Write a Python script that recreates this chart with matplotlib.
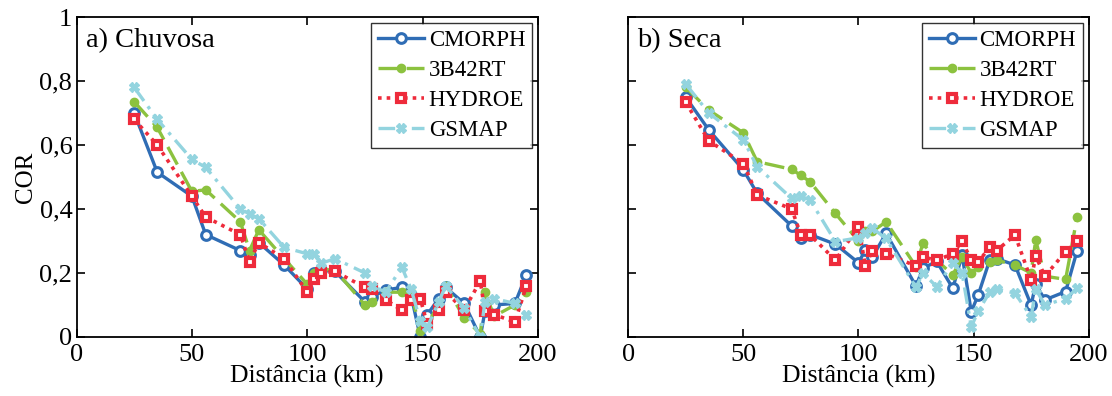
import numpy as np
import matplotlib
matplotlib.use("Agg")
import matplotlib.pyplot as plt
from matplotlib.ticker import FuncFormatter

plt.rcParams['font.family'] = ['Liberation Serif', 'DejaVu Serif']

# distance bins (km)
dist = [25, 35, 50, 56, 71, 75, 79, 90, 100, 103, 106, 112, 125, 128, 134,
        141, 145, 149, 152, 157, 160, 168, 175, 177, 181, 190, 195]

# a) Chuvosa
cmorph_a = [0.70, 0.515, 0.44, 0.32, 0.27, 0.255, 0.295, 0.225, 0.15, 0.20, 0.21, 0.205, 0.11, 0.125,
            0.147, 0.155, 0.13, 0.0, 0.07, 0.12, 0.155, 0.105, 0.0, 0.08, 0.10, 0.105, 0.195]
b42rt_a = [0.735, 0.655, 0.455, 0.46, 0.36, 0.27, 0.335, 0.245, 0.165, 0.20, 0.21, 0.21, 0.10, 0.11,
           0.14, 0.14, 0.14, 0.02, 0.04, 0.10, 0.16, 0.06, 0.01, 0.14, 0.065, 0.10, 0.14]
hydroe_a = [0.68, 0.60, 0.44, 0.375, 0.32, 0.235, 0.295, 0.245, 0.14, 0.18, 0.20, 0.205, 0.155, 0.15,
            0.116, 0.084, 0.115, 0.12, 0.04, 0.085, 0.14, 0.085, 0.175, 0.08, 0.07, 0.047, 0.16]
gsmap_a = [0.78, 0.68, 0.555, 0.53, 0.40, 0.385, 0.37, 0.28, 0.26, 0.26, 0.23, 0.245, 0.20, 0.16,
           0.14, 0.218, 0.15, 0.05, 0.03, 0.11, 0.16, 0.09, 0.0, 0.11, 0.12, 0.105, 0.07]

# b) Seca
cmorph_b = [0.749, 0.647, 0.522, 0.449, 0.347, 0.308, 0.32, 0.29, 0.232, 0.272, 0.249, 0.324, 0.159, 0.215,
            0.236, 0.152, 0.256, 0.079, 0.131, 0.24, 0.245, 0.225, 0.10, 0.165, 0.116, 0.142, 0.27]
b42rt_b = [0.78, 0.709, 0.638, 0.548, 0.524, 0.505, 0.485, 0.386, 0.30, 0.33, 0.33, 0.36, 0.22, 0.293,
           0.24, 0.194, 0.25, 0.20, 0.22, 0.235, 0.24, 0.225, 0.20, 0.303, 0.19, 0.18, 0.376]
hydroe_b = [0.733, 0.613, 0.542, 0.444, 0.40, 0.319, 0.319, 0.24, 0.345, 0.222, 0.27, 0.26, 0.222, 0.25,
            0.24, 0.26, 0.30, 0.24, 0.235, 0.28, 0.27, 0.319, 0.178, 0.253, 0.19, 0.267, 0.30]
gsmap_b = [0.79, 0.70, 0.616, 0.532, 0.433, 0.44, 0.428, 0.298, 0.31, 0.324, 0.34, 0.308, 0.155, 0.20,
           0.157, 0.232, 0.20, 0.032, 0.08, 0.14, 0.15, 0.137, 0.063, 0.15, 0.10, 0.12, 0.152]

names = ["CMORPH", "3B42RT", "HYDROE", "GSMAP"]
styles = [
    dict(color="#2f6db5", ls="-", marker="o", ms=7, mfc="white", mec="#2f6db5", mew=2.2, lw=2.4),
    dict(color="#8cc23f", ls=(0, (6, 2.5)), marker="o", ms=6, mfc="#8cc23f", mec="#8cc23f", lw=2.4),
    dict(color="#ee2b3b", ls=(0, (1, 1.4)), marker="s", ms=6, mfc="white", mec="#ee2b3b", mew=3.0, lw=2.6),
    dict(color="#93d4df", ls=(0, (5, 2, 1, 2)), marker="X", ms=7, mfc="#93d4df", mec="#93d4df", lw=2.4),
]

fig = plt.figure(figsize=(11.12, 3.96), dpi=100)
ax1 = fig.add_axes([0.0688, 0.149, 0.415, 0.808])
ax2 = fig.add_axes([0.565, 0.149, 0.414, 0.808])

comma = FuncFormatter(lambda v, p: "0" if v == 0 else ("1" if v == 1 else f"{v:.1f}".replace(".", ",")))

for ax, series, title in [(ax1, [cmorph_a, b42rt_a, hydroe_a, gsmap_a], "a) Chuvosa"),
                          (ax2, [cmorph_b, b42rt_b, hydroe_b, gsmap_b], "b) Seca")]:
    for name, vals, st in zip(names, series, styles):
        ax.plot(dist, vals, label=name, **st)
    ax.set_xlim(0, 200)
    ax.set_ylim(0, 1)
    ax.set_xticks([0, 50, 100, 150, 200])
    ax.set_yticks([0, 0.2, 0.4, 0.6, 0.8, 1])
    ax.yaxis.set_major_formatter(comma)
    ax.tick_params(direction="in", length=6, width=1.2, top=True, right=True, labelsize=19, pad=3)
    ax.tick_params(axis="x", pad=5)
    for s in ax.spines.values():
        s.set_linewidth(1.3)
    ax.set_xlabel("Distância (km)", fontsize=18.5, labelpad=-1)
    ax.text(0.02, 0.965, title, transform=ax.transAxes, fontsize=20.5, va="top", ha="left")
    leg = ax.legend(loc="upper right", fontsize=16.5, frameon=True, fancybox=False,
                    edgecolor="black", handlelength=2.0, handletextpad=0.2,
                    borderpad=0.3, labelspacing=0.4, borderaxespad=0.25)
    leg.get_frame().set_linewidth(1.0)

ax1.set_ylabel("COR", fontsize=18, labelpad=2)
ax2.tick_params(labelleft=False)

fig.savefig("out.png", dpi=100)
